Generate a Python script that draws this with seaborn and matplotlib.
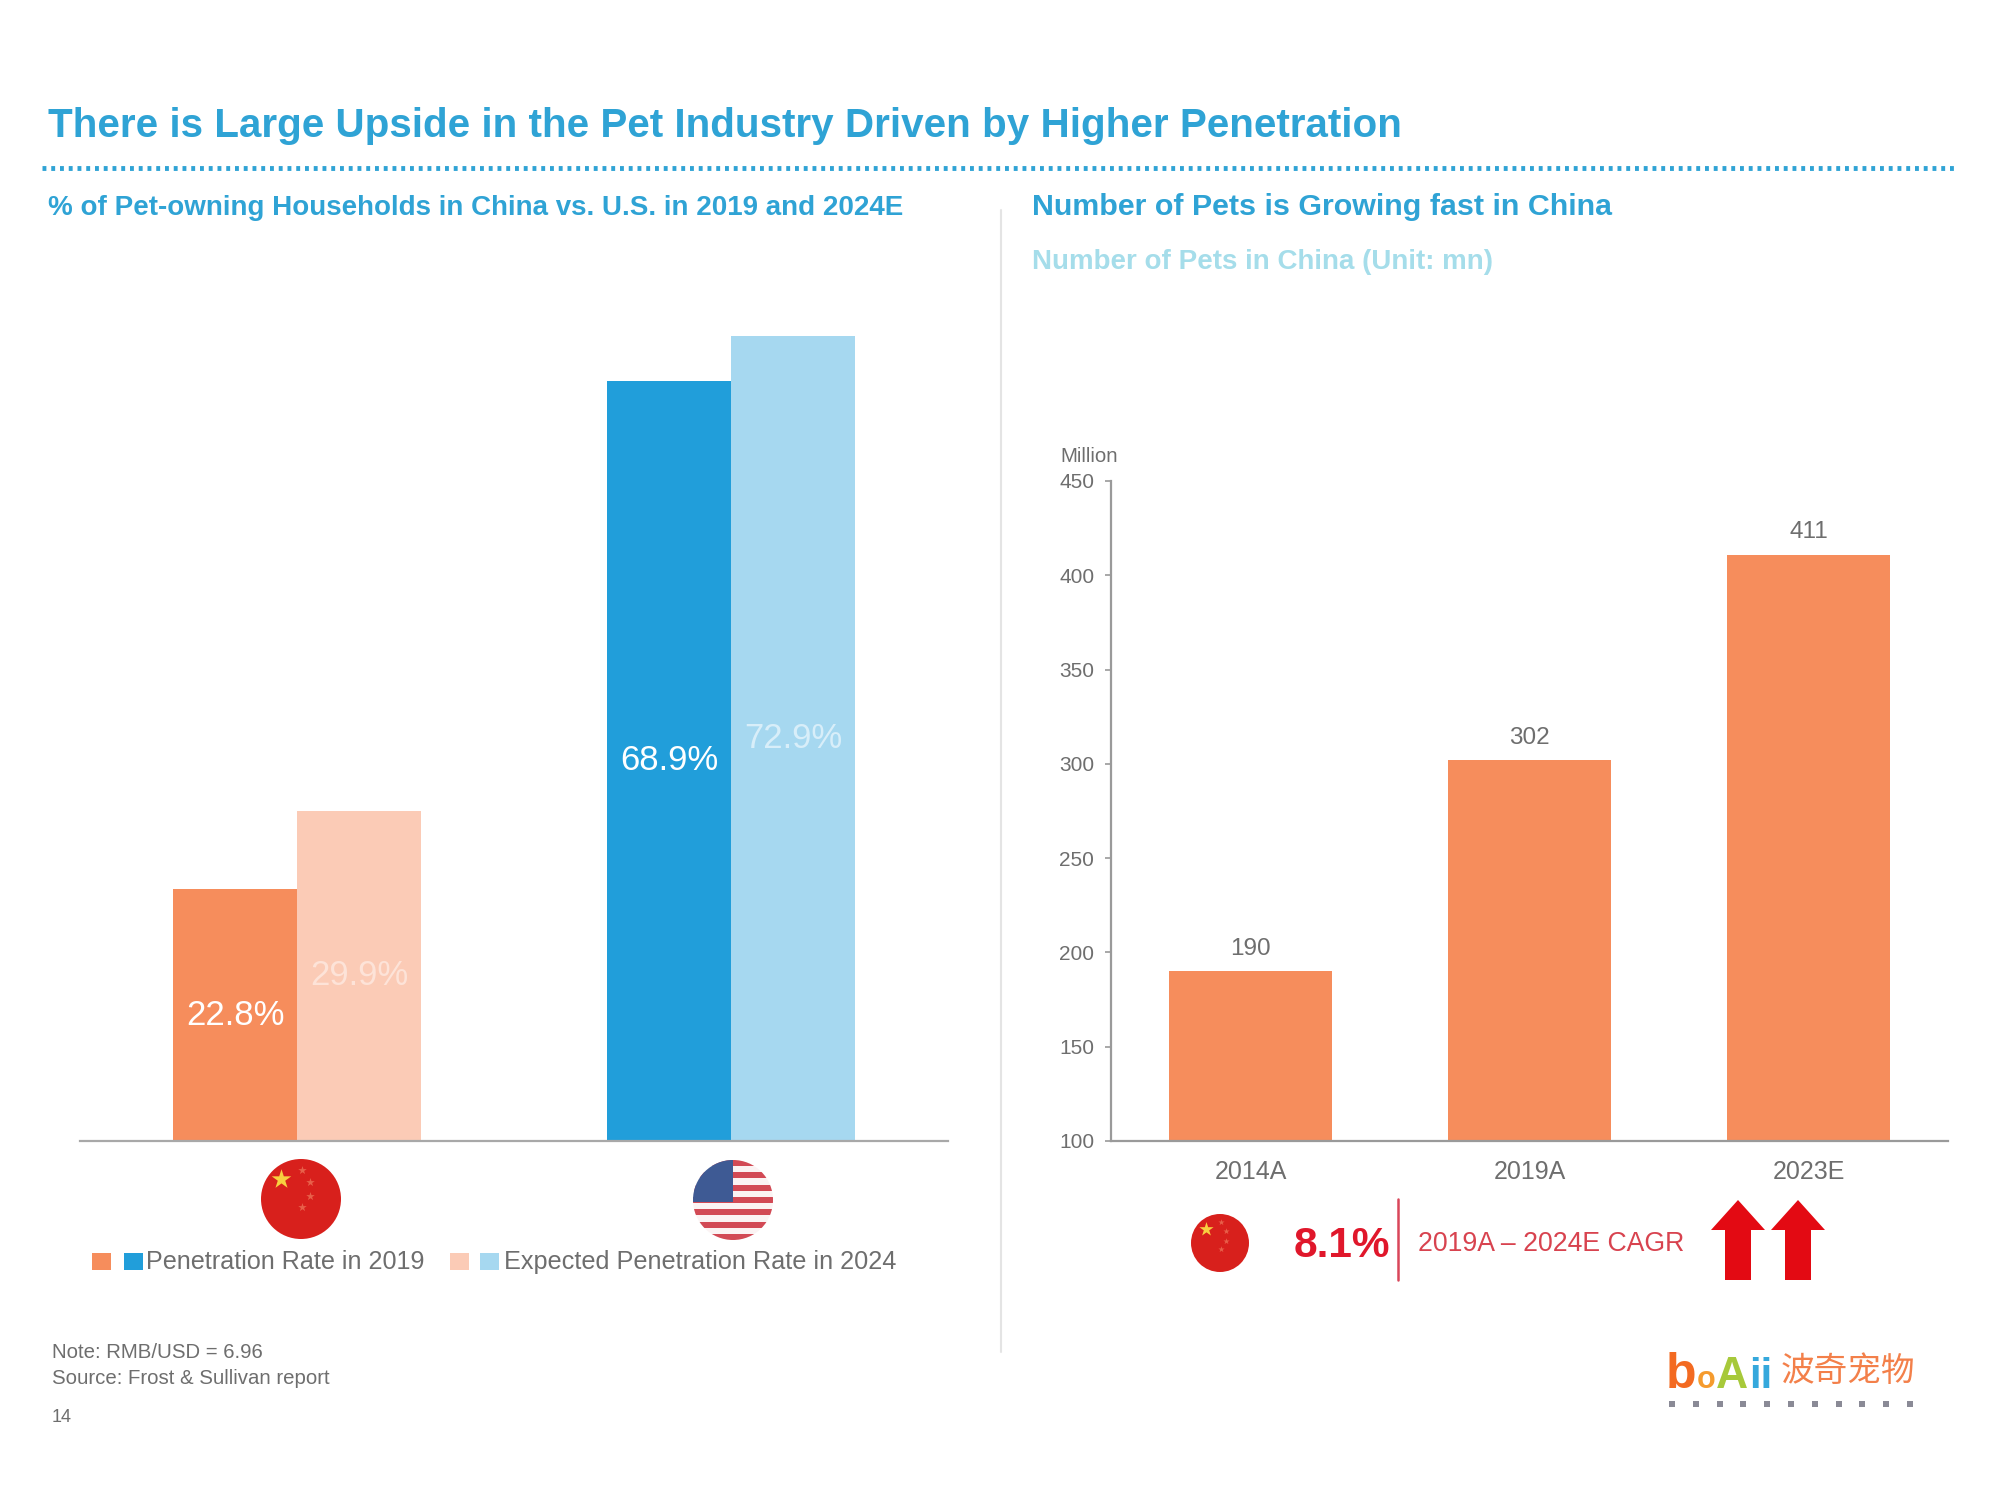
import numpy as np
import pandas as pd
import matplotlib
matplotlib.use('Agg')
import matplotlib.pyplot as plt
from matplotlib.patches import Circle, Rectangle, Polygon
import seaborn as sns

# values
countries = ['China', 'U.S.']
years = ['2019', '2024E']
rate_2019 = [22.8, 68.9]
rate_2024 = [29.9, 72.9]
pet_years = ['2014A', '2019A', '2023E']
pet_counts = [190, 302, 411]
pet_ticks = [100, 150, 200, 250, 300, 350, 400, 450]

# colours
ORANGE = '#F68D5C'
PEACH = '#FBCBB6'
BLUE = '#219EDA'
SKY = '#A6D8F0'
TITLE_BLUE = '#2FA3D5'
PALE_BLUE = '#A5DDEA'
GREY = '#6E6E6E'
RED = '#E0172B'

sns.set_theme(style='white')
plt.rcParams['font.family'] = ['Liberation Sans', 'DejaVu Sans']

W, H = 2000, 1500
fig = plt.figure(figsize=(20, 15), dpi=100, facecolor='white')


def px_axes(left, top, right, bottom):
    return fig.add_axes([left / W, 1 - bottom / H, (right - left) / W, (bottom - top) / H])


# left chart
ax1 = px_axes(80, 258, 948, 1141)
df = pd.DataFrame({
    'country': countries * 2,
    'year': [years[0]] * 2 + [years[1]] * 2,
    'rate': rate_2019 + rate_2024,
})
sns.barplot(data=df, x='country', y='rate', hue='year', width=0.571, gap=0,
            saturation=1, legend=False, ax=ax1)
bar_colours = {0: ORANGE, 1: BLUE, 2: PEACH, 3: SKY}
for i, bar in enumerate(ax1.patches[:4]):
    bar.set_facecolor(bar_colours[i])
    bar.set_edgecolor('none')
label_colours = ['#FFFFFF', '#FDE3D8']
for c, lc in zip(ax1.containers, label_colours):
    ax1.bar_label(c, fmt='%.1f%%', label_type='center', color=lc, fontsize=25)
# light label on the sky bar is paler than the blue one
ax1.texts[-1].set_color('#D8EEF9')
ax1.set_xlim(-0.5, 1.5)
ax1.set_ylim(0, 80)
ax1.set(xlabel='', ylabel='', xticks=[], yticks=[])
sns.despine(ax=ax1, left=True)
ax1.spines['bottom'].set_color('#A8A8A8')
ax1.spines['bottom'].set_linewidth(1.6)
ax1.patch.set_alpha(0)

# right chart
ax2 = px_axes(1111, 481, 1948, 1141)
sns.barplot(x=pet_years, y=pet_counts, color=ORANGE, width=0.585, saturation=1, ax=ax2)
for bar in ax2.patches:
    bar.set_edgecolor('none')
ax2.bar_label(ax2.containers[0], padding=8, color=GREY, fontsize=17.5)
ax2.set_xlim(-0.5, 2.5)
ax2.set_ylim(100, 450)
ax2.set_yticks(pet_ticks)
ax2.tick_params(axis='y', labelsize=15, labelcolor=GREY, length=4, width=1.2,
                color='#9A9A9A', left=True, pad=8)
ax2.tick_params(axis='x', labelsize=18, labelcolor=GREY, length=0, pad=14)
sns.despine(ax=ax2)
for s in ['left', 'bottom']:
    ax2.spines[s].set_color('#9A9A9A')
    ax2.spines[s].set_linewidth(1.6)
ax2.patch.set_alpha(0)

# overlay in pixel coordinates for the slide furniture
ov = fig.add_axes([0, 0, 1, 1], zorder=5)
ov.set_xlim(0, W)
ov.set_ylim(H, 0)
ov.axis('off')

ov.text(48, 126, 'There is Large Upside in the Pet Industry Driven by Higher Penetration',
        fontsize=29.05, fontweight='bold', color=TITLE_BLUE, va='center')
ov.plot([42, 1958], [168, 168], color=TITLE_BLUE, lw=3.5, ls=(0, (0.8, 1.0)))
ov.text(48, 208, '% of Pet-owning Households in China vs. U.S. in 2019 and 2024E',
        fontsize=20, fontweight='bold', color=TITLE_BLUE, va='center')
ov.text(1032, 207, 'Number of Pets is Growing fast in China',
        fontsize=21.85, fontweight='bold', color=TITLE_BLUE, va='center')
ov.text(1032, 262, 'Number of Pets in China (Unit: mn)',
        fontsize=20, fontweight='bold', color=PALE_BLUE, va='center')
ov.plot([1001, 1001], [210, 1352], color='#E4E4E4', lw=1.5)

ov.text(1060, 456, 'Million', fontsize=14.7, color=GREY, va='center')


def china_flag(cx, cy, r):
    ov.add_patch(Circle((cx, cy), r, color='#D8201C', lw=0))
    ov.scatter([cx - r * 0.5], [cy - r * 0.5], marker='*', s=(r * 0.37) ** 2,
               color='#F8D040', lw=0, zorder=3)
    ov.scatter([cx + 0.02 * r, cx + 0.22 * r, cx + 0.22 * r, cx + 0.02 * r],
               [cy - 0.72 * r, cy - 0.42 * r, cy - 0.08 * r, cy + 0.2 * r],
               marker='*', s=(r * 0.16) ** 2, color='#E8604A', lw=0, zorder=3)


def us_flag(cx, cy, r):
    clip = Circle((cx, cy), r, transform=ov.transData)
    ov.add_patch(Rectangle((cx - r, cy - r), 2 * r, 2 * r, color='#FBF3F3', lw=0, clip_path=clip))
    for k in range(7):
        y0 = cy - r + k * 2 * r * 2 / 13
        ov.add_patch(Rectangle((cx - r, y0), 2 * r, 2 * r / 13, color='#D24A55', lw=0,
                               clip_path=clip, zorder=2))
    ov.add_patch(Rectangle((cx - r, cy - r), r, r * 1.05, color='#3E5A94', lw=0,
                           clip_path=clip, zorder=3))


china_flag(301, 1199, 40)
us_flag(733, 1200, 40)
china_flag(1220, 1243, 29)

# legend
for x0, col in [(92, ORANGE), (124, BLUE), (450, PEACH), (480, SKY)]:
    ov.add_patch(Rectangle((x0, 1253), 19, 17, color=col, lw=0))
ov.text(146, 1262, 'Penetration Rate in 2019', fontsize=18.1, color=GREY, va='center')
ov.text(504, 1262, 'Expected Penetration Rate in 2024', fontsize=18.15, color=GREY, va='center')

# notes
ov.text(52, 1353, 'Note: RMB/USD = 6.96', fontsize=14.7, color=GREY, va='center')
ov.text(52, 1378, 'Source: Frost & Sullivan report', fontsize=14.7, color=GREY, va='center')
ov.text(52, 1418, '14', fontsize=13, color=GREY, va='center')

# CAGR row
ov.text(1294, 1246, '8.1%', fontsize=30.5, color=RED, va='center', fontweight='bold')
ov.plot([1398, 1398], [1199, 1280], color='#D9475A', lw=1.8)
ov.text(1418, 1244, '2019A – 2024E CAGR', fontsize=19.2, color='#D8434F', va='center')
for ax_x in [1738, 1798]:
    ov.add_patch(Polygon([(ax_x, 1200), (ax_x + 27, 1230), (ax_x + 13, 1230), (ax_x + 13, 1280),
                          (ax_x - 13, 1280), (ax_x - 13, 1230), (ax_x - 27, 1230)],
                         color='#E30A13', lw=0))

# logo
for x0, letter, col, fs in [(1666, 'b', '#F36A21', 36), (1697, 'o', '#F59B2E', 22),
                            (1716, 'A', '#A7C93A', 32), (1749, 'ii', '#35A8DC', 30)]:
    ov.text(x0, 1388, letter, fontsize=fs, color=col, fontweight='bold', va='baseline')
ov.text(1781, 1371, '波奇宠物', fontsize=24.2, color='#F3804A', va='center',
        family=['Noto Sans CJK SC', 'DejaVu Sans'])
ov.scatter(np.linspace(1672, 1910, 11), [1404] * 11, marker='s', s=20, color='#8A8A96', lw=0)

fig.savefig('out.png', dpi=100)
